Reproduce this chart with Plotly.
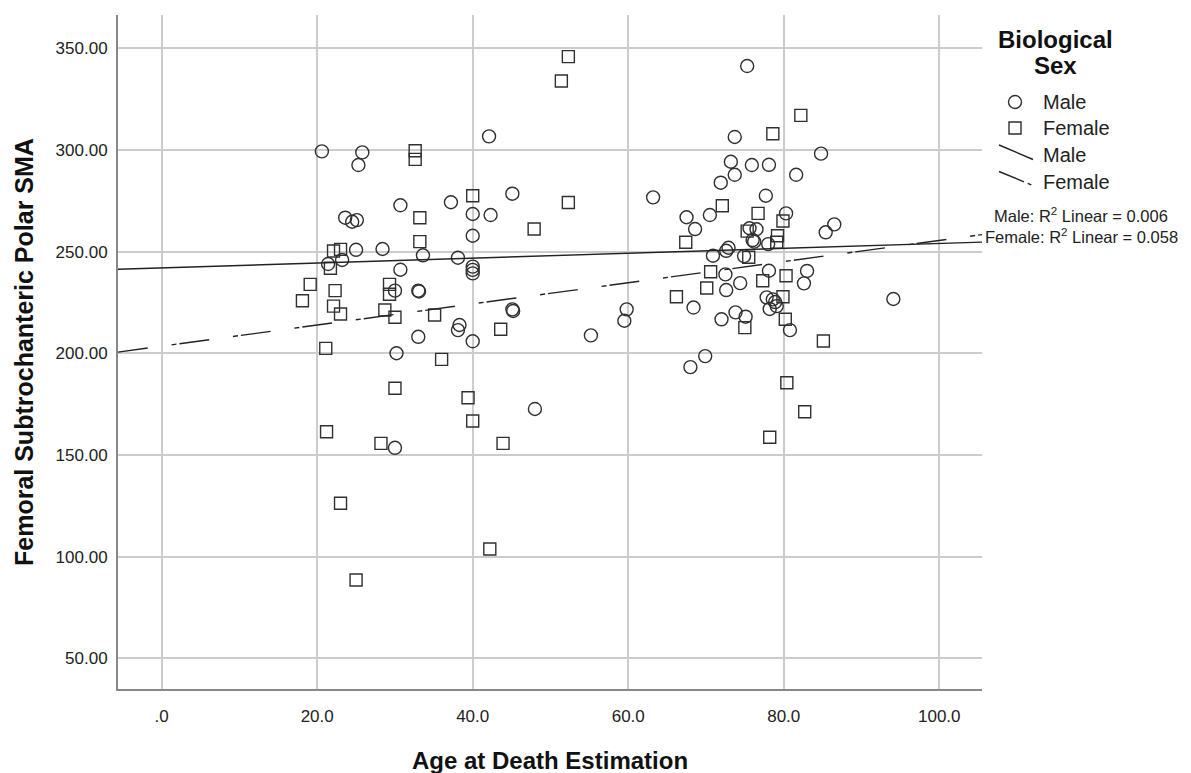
import numpy as np
import plotly.graph_objects as go

# Age at death estimation (years) and femoral subtrochanteric polar SMA, males
male_age = [42.1, 20.6, 25.8, 25.3, 45.1, 37.2, 30.7, 40.0, 42.3, 23.6, 24.5, 25.1,
            40.0, 25.0, 28.4, 33.6, 38.1, 23.2, 21.4, 30.7, 40.0, 40.0, 40.0, 30.0,
            33.0, 33.1, 45.1, 45.2, 38.3, 38.1, 33.0, 40.0, 30.2, 48.0, 30.0, 55.2,
            59.8, 59.5, 63.2,
            75.3, 73.7, 84.8, 73.2, 75.9, 78.1, 73.7, 81.6, 71.9, 77.7, 80.3, 67.5,
            70.5, 86.5, 68.6, 85.4, 75.6, 76.5, 76.0, 76.2, 78.0, 72.9, 72.6, 70.9,
            74.9, 72.5, 78.1, 83.0, 74.4, 82.6, 72.6, 77.8, 78.6, 78.9, 78.2, 79.1,
            94.1, 68.4, 73.8, 75.1, 72.0, 80.8, 69.9, 68.0]
male_sma = [306.7, 299.3, 298.8, 292.6, 278.5, 274.3, 272.8, 268.5, 268.0, 266.7, 264.7, 265.5,
            257.8, 250.9, 251.3, 248.2, 247.0, 245.9, 243.9, 241.1, 242.6, 241.0, 239.3, 230.8,
            230.8, 230.4, 221.6, 220.8, 213.9, 211.4, 208.1, 205.9, 200.0, 172.6, 153.5, 208.8,
            221.6, 216.0, 276.7,
            341.3, 306.4, 298.2, 294.2, 292.6, 292.7, 287.8, 287.8, 283.9, 277.5, 268.8, 266.9,
            268.0, 263.4, 261.1, 259.5, 261.5, 261.0, 255.7, 254.9, 253.7, 251.9, 250.4, 248.0,
            247.8, 238.8, 240.6, 240.5, 234.5, 234.4, 231.1, 227.5, 226.5, 225.2, 221.8, 223.2,
            226.7, 222.5, 220.1, 218.0, 216.7, 211.4, 198.6, 193.2]

# Same measures, females
female_age = [52.3, 51.4, 32.6, 32.6, 40.0, 52.3, 33.2, 47.9, 33.2, 22.1, 23.0, 21.7,
              19.1, 29.3, 22.3, 29.3, 18.1, 22.1, 23.0, 28.7, 30.0, 35.1, 43.6, 21.1,
              36.0, 30.0, 39.4, 40.0, 21.2, 28.2, 43.9, 23.0, 42.2, 25.0,
              82.2, 78.6, 72.1, 76.7, 79.9, 75.3, 79.2, 79.1, 67.4, 75.5, 70.6, 80.3,
              77.3, 70.1, 66.2, 79.9, 80.2, 75.0, 85.1, 80.4, 82.7, 78.2]
female_sma = [345.9, 333.9, 299.6, 295.4, 277.5, 274.2, 266.7, 261.1, 254.9, 250.3, 251.1, 241.8,
              233.9, 233.9, 230.8, 229.0, 225.8, 223.2, 219.3, 221.3, 217.7, 218.8, 211.8, 202.4,
              197.0, 182.8, 178.1, 166.7, 161.4, 155.7, 155.7, 126.2, 103.7, 88.5,
              317.0, 308.0, 272.6, 268.8, 265.1, 260.1, 257.8, 254.6, 254.6, 247.2, 240.1, 238.1,
              235.7, 232.1, 227.8, 227.8, 216.7, 212.6, 206.0, 185.5, 171.2, 158.7]

# Linear fit lines: (intercept, slope) and R squared per sex
male_fit = (242.0, 0.12)
female_fit = (203.5, 0.52)
male_r2 = 0.006
female_r2 = 0.058

x_tickvals = [0, 20, 40, 60, 80, 100]
x_ticktext = [".0", "20.0", "40.0", "60.0", "80.0", "100.0"]
y_tickvals = [50, 100, 150, 200, 250, 300, 350]
y_ticktext = ["50.00", "100.00", "150.00", "200.00", "250.00", "300.00", "350.00"]

x_range = [-5.62, 105.5]
y_range = [34.85, 366.4]

W, H = 1191, 773
PL, PR, PT, PB = 118, 982, 15, 689

FONT = "Liberation Sans, Arial, sans-serif"
INK = "#303030"


def fx(x):
    return (x - PL) / (PR - PL)


def fy(y):
    return (PB - y) / (PB - PT)


fig = go.Figure()

fig.add_trace(go.Scatter(
    x=male_age, y=male_sma, mode="markers", name="Male",
    marker=dict(symbol="circle-open", size=13, color=INK, line=dict(width=1.4, color=INK)),
))
fig.add_trace(go.Scatter(
    x=female_age, y=female_sma, mode="markers", name="Female",
    marker=dict(symbol="square-open", size=12, color=INK, line=dict(width=1.4, color=INK)),
))

fit_x = np.array(x_range)
fig.add_trace(go.Scatter(
    x=fit_x, y=male_fit[0] + male_fit[1] * fit_x, mode="lines", name="Male fit",
    line=dict(color="#222222", width=1.4),
))
fig.add_trace(go.Scatter(
    x=fit_x, y=female_fit[0] + female_fit[1] * fit_x, mode="lines", name="Female fit",
    line=dict(color="#222222", width=1.4, dash="30px,24px,5px,3px"),
))

axis_common = dict(
    showline=True, linecolor="#888888", linewidth=2,
    showgrid=True, gridcolor="#cccccc", gridwidth=1.5,
    zeroline=False, ticks="",
    tickfont=dict(family=FONT, size=17, color="#222222"),
)

fig.update_layout(
    width=W, height=H,
    margin=dict(l=PL, r=W - PR, t=PT, b=H - PB),
    paper_bgcolor="white", plot_bgcolor="white",
    showlegend=False,
    xaxis=dict(range=x_range, tickvals=x_tickvals, ticktext=x_ticktext,
               ticklabelstandoff=11, **axis_common),
    yaxis=dict(range=y_range, tickvals=y_tickvals, ticktext=y_ticktext,
               ticklabelstandoff=5, **axis_common),
)

TITLE_FONT = dict(family=FONT, size=24, color="#111111")

annotations = [
    dict(text="<b>Age at Death Estimation</b>", x=0.5, y=fy(760), xref="paper", yref="paper",
         showarrow=False, font=TITLE_FONT, xanchor="center", yanchor="middle"),
    dict(text="<b>Femoral Subtrochanteric Polar SMA</b>", x=fx(24), y=fy(352),
         xref="paper", yref="paper", showarrow=False, textangle=-90,
         font=dict(family=FONT, size=25, color="#111111"),
         xanchor="center", yanchor="middle"),
    dict(text="<b>Biological</b>", x=fx(1055), y=fy(39), xref="paper", yref="paper",
         showarrow=False, font=TITLE_FONT, xanchor="center", yanchor="middle"),
    dict(text="<b>Sex</b>", x=fx(1055), y=fy(65), xref="paper", yref="paper",
         showarrow=False, font=TITLE_FONT, xanchor="center", yanchor="middle"),
]

legend_rows = [("Male", 102), ("Female", 128), ("Male", 155), ("Female", 182)]
for label, yy in legend_rows:
    annotations.append(dict(
        text=label, x=fx(1041), y=fy(yy), xref="paper", yref="paper", showarrow=False,
        font=dict(family=FONT, size=20, color="#222222"), xanchor="left", yanchor="middle"))

annotations.append(dict(
    text=f"Male: R<sup>2</sup> Linear = {male_r2:.3f}", x=fx(1081), y=fy(215),
    xref="paper", yref="paper", showarrow=False,
    font=dict(family=FONT, size=16.5, color="#222222"), xanchor="center", yanchor="middle"))
annotations.append(dict(
    text=f"Female: R<sup>2</sup> Linear = {female_r2:.3f}", x=fx(1081), y=fy(236),
    xref="paper", yref="paper", showarrow=False,
    font=dict(family=FONT, size=16.5, color="#222222"), xanchor="center", yanchor="middle"))

shapes = [
    dict(type="circle", xref="paper", yref="paper", xsizemode="pixel", ysizemode="pixel",
         xanchor=fx(1015), yanchor=fy(102), x0=-6.5, x1=6.5, y0=-6.5, y1=6.5,
         line=dict(color=INK, width=1.4)),
    dict(type="rect", xref="paper", yref="paper", xsizemode="pixel", ysizemode="pixel",
         xanchor=fx(1015), yanchor=fy(128), x0=-6, x1=6, y0=-6, y1=6,
         line=dict(color=INK, width=1.4)),
    dict(type="line", xref="paper", yref="paper", x0=fx(999), y0=fy(145), x1=fx(1033), y1=fy(159.5),
         line=dict(color="#222222", width=1.4)),
    dict(type="line", xref="paper", yref="paper", x0=fx(999), y0=fy(171.5), x1=fx(1033), y1=fy(185.5),
         line=dict(color="#222222", width=1.4, dash="27px,4px,4px,20px")),
]

fig.update_layout(annotations=annotations, shapes=shapes)

fig.write_html("out.html")
